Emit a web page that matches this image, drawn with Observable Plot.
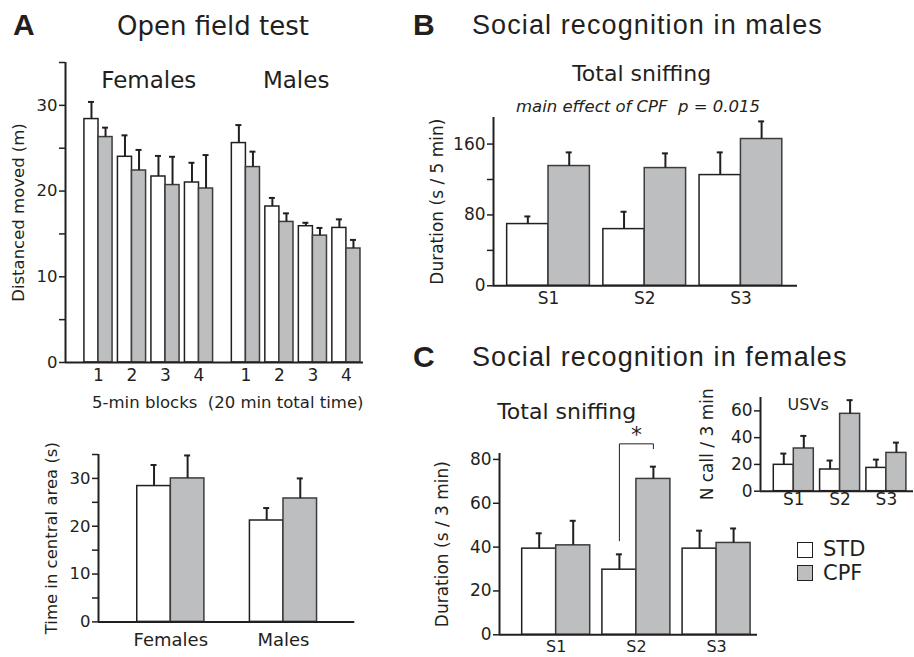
<!DOCTYPE html>
<html><head><meta charset="utf-8">
<script src="https://cdn.jsdelivr.net/npm/d3@7"></script>
<script src="https://cdn.jsdelivr.net/npm/@observablehq/plot@0.6"></script>
<style>
body{margin:0;background:#fff;}
#fig{position:relative;width:914px;height:657px;overflow:hidden;font-family:"DejaVu Sans",sans-serif;color:#231f20;background:#fff;}
.t{position:absolute;white-space:pre;line-height:1;}
.letter{font-family:"Liberation Sans",Arial,sans-serif;font-weight:bold;font-size:30px;}
.head{font-family:"Liberation Sans",Arial,sans-serif;font-size:27px;letter-spacing:1.1px;}
.chart{position:absolute;}
.sw{position:absolute;width:14px;height:14px;border:1.5px solid #231f20;}
</style>
</head><body>
<div id="fig"></div>
<script>
// ---------- data ----------
// A (top): distance moved per 5-min block
const blocks = ["1", "2", "3", "4"];
const femDistSTD = [28.4, 24.0, 21.7, 21.0];
const femDistSTDerr = [2.0, 2.5, 2.4, 2.3];
const femDistCPF = [26.3, 22.4, 20.7, 20.3];
const femDistCPFerr = [1.1, 2.4, 3.3, 3.9];
const maleDistSTD = [25.6, 18.2, 15.9, 15.7];
const maleDistSTDerr = [2.1, 1.0, 0.4, 1.0];
const maleDistCPF = [22.8, 16.4, 14.8, 13.3];
const maleDistCPFerr = [1.8, 1.0, 0.9, 1.0];
// A (bottom): time in central area
const sexes = ["Females", "Males"];
const centralSTD = [28.4, 21.2];
const centralSTDerr = [4.4, 2.6];
const centralCPF = [30.0, 25.8];
const centralCPFerr = [4.8, 4.2];
// B: males total sniffing
const sessions = ["S1", "S2", "S3"];
const maleSniffSTD = [69.7, 64.0, 125.0];
const maleSniffSTDerr = [8.6, 19.6, 25.6];
const maleSniffCPF = [135.2, 132.9, 165.7];
const maleSniffCPFerr = [15.4, 16.6, 19.9];
// C: females total sniffing
const femSniffSTD = [39.3, 29.7, 39.3];
const femSniffSTDerr = [7.0, 7.0, 8.2];
const femSniffCPF = [40.8, 71.1, 41.9];
const femSniffCPFerr = [11.2, 5.6, 6.6];
// C inset: USVs
const usvSTD = [19.7, 16.2, 17.4];
const usvSTDerr = [8.4, 6.7, 6.2];
const usvCPF = [31.9, 57.8, 28.6];
const usvCPFerr = [9.4, 10.2, 7.7];

const GREY = "#bcbec0";
const INK = "#231f20";
const fig = document.getElementById("fig");

function text(str, cls, left, baseline, size, extra) {
  const d = document.createElement("div");
  d.className = "t " + (cls || "");
  d.textContent = str;
  d.style.fontSize = size + "px";
  d.style.left = left + "px";
  d.style.top = (baseline - 0.845 * size) + "px";
  if (extra) Object.assign(d.style, extra);
  fig.appendChild(d);
  return d;
}

function makeChart(cfg) {
  const {x0, x1, y0, y1} = cfg.frame;
  const ML = 80, MR = 20, MT = 20, MB = 60;
  const W = x1 - x0 + ML + MR, H = y1 - y0 + MT + MB;
  const ppu = (x1 - x0) / (cfg.xDomain[1] - cfg.xDomain[0]);
  const cap = 3 / ppu;
  const rows = [];
  cfg.cats.forEach((c, i) => {
    const k = cfg.centers[i];
    rows.push({cat: c, grp: "STD", x1: k - cfg.half, x2: k, v: cfg.std[i], e: cfg.stdErr[i]});
    rows.push({cat: c, grp: "CPF", x1: k, x2: k + cfg.half, v: cfg.cpf[i], e: cfg.cpfErr[i]});
  });
  const mid = d => (d.x1 + d.x2) / 2;
  const marks = [
    Plot.rectY(rows.filter(d => d.grp === "STD"), {x1: "x1", x2: "x2", y1: 0, y2: "v", fill: "white", stroke: INK, strokeWidth: 1.5}),
    Plot.rectY(rows.filter(d => d.grp === "CPF"), {x1: "x1", x2: "x2", y1: 0, y2: "v", fill: GREY, stroke: "#3c3c3c", strokeWidth: 1.5}),
    Plot.ruleX(rows, {x: mid, y1: "v", y2: d => d.v + d.e, stroke: INK, strokeWidth: 2}),
    Plot.ruleY(rows, {y: d => d.v + d.e, x1: d => mid(d) - cap, x2: d => mid(d) + cap, stroke: INK, strokeWidth: 2}),
    Plot.ruleY([0], {x1: cfg.xDomain[0], x2: cfg.xDomain[1], stroke: INK, strokeWidth: 2}),
    Plot.ruleX([cfg.xDomain[0]], {y1: 0, y2: cfg.yDomain[1], stroke: INK, strokeWidth: 2}),
    Plot.axisY({ticks: cfg.yTicks, tickFormat: d => cfg.yLabels.includes(d) ? String(d) : "",
      tickSize: 6, tickPadding: 2, strokeWidth: 1.5, fontSize: cfg.yFont,
      label: cfg.yLabel, labelAnchor: "center", labelOffset: cfg.labelOffset, labelArrow: "none"}),
    Plot.axisX({ticks: cfg.centers, tickFormat: d => cfg.xNames[cfg.centers.indexOf(d)],
      tickSize: 0, tickPadding: cfg.xPad, fontSize: cfg.xFont, label: null}),
    ...(cfg.extra || [])
  ];
  const svg = Plot.plot({
    width: W, height: H, marginLeft: ML, marginRight: MR, marginTop: MT, marginBottom: MB,
    x: {domain: cfg.xDomain}, y: {domain: cfg.yDomain},
    style: {fontFamily: "DejaVu Sans", fontSize: "16px", color: INK, background: "transparent", overflow: "visible"},
    marks
  });
  const wrap = document.createElement("div");
  wrap.className = "chart";
  wrap.style.left = (x0 - ML) + "px";
  wrap.style.top = (y0 - MT) + "px";
  wrap.style.width = W + "px";
  wrap.style.height = H + "px";
  svg.style.maxWidth = "none";
  wrap.appendChild(svg);
  fig.appendChild(wrap);
}

// ---------- Panel A top ----------
const femCenters = [0, 1, 2, 3];
const maleCenters = [4.4, 5.4, 6.4, 7.4];
makeChart({
  frame: {x0: 65, x1: 363, y0: 62, y1: 362},
  xDomain: [-0.985, 7.91], yDomain: [0, 35],
  cats: [...blocks.map(b => "F" + b), ...blocks.map(b => "M" + b)],
  xNames: [...blocks, ...blocks],
  centers: [...femCenters, ...maleCenters], half: 0.42,
  std: [...femDistSTD, ...maleDistSTD], stdErr: [...femDistSTDerr, ...maleDistSTDerr],
  cpf: [...femDistCPF, ...maleDistCPF], cpfErr: [...femDistCPFerr, ...maleDistCPFerr],
  yTicks: [0, 5, 10, 15, 20, 25, 30, 35], yLabels: [0, 10, 20, 30], yFont: 16.5,
  yLabel: "Distanced moved (m)", labelOffset: 53, xFont: 17, xPad: 6,
  extra: [
    Plot.text([{t: sexes[0], x: d3.mean(femCenters)}, {t: sexes[1], x: d3.mean(maleCenters)}],
      {x: "x", y: 32.9, text: "t", fontSize: 23}),
    Plot.text(["5-min blocks\u00a0 (20 min total time)"], {frameAnchor: "bottom-right", text: d => d,
      textAnchor: "end", lineAnchor: "bottom", dy: 45, fontSize: 16.5})
  ]
});

// ---------- Panel A bottom ----------
makeChart({
  frame: {x0: 97.7, x1: 354, y0: 454.3, y1: 621.7},
  xDomain: [-0.642, 1.633], yDomain: [0, 35],
  cats: sexes, xNames: sexes, centers: [0, 1], half: 0.298,
  std: centralSTD, stdErr: centralSTDerr, cpf: centralCPF, cpfErr: centralCPFerr,
  yTicks: [0, 5, 10, 15, 20, 25, 30, 35], yLabels: [0, 10, 20, 30], yFont: 16.5,
  yLabel: "Time in central area (s)", labelOffset: 53, xFont: 18, xPad: 11
});

// ---------- Panel B ----------
makeChart({
  frame: {x0: 492.7, x1: 796.7, y0: 116.7, y1: 285},
  xDomain: [-0.572, 2.588], yDomain: [0, 190],
  cats: sessions, xNames: sessions, centers: [0, 1, 2], half: 0.43,
  std: maleSniffSTD, stdErr: maleSniffSTDerr, cpf: maleSniffCPF, cpfErr: maleSniffCPFerr,
  yTicks: [0, 40, 80, 120, 160], yLabels: [0, 80, 160], yFont: 17,
  yLabel: "Duration (s / 5 min)", labelOffset: 63, xFont: 17, xPad: 6
});

// ---------- Panel C ----------
const bracket = [
  {x: 1 - 0.212, y: 42.9}, {x: 1 - 0.212, y: 87.1}, {x: 1 + 0.212, y: 87.1}, {x: 1 + 0.212, y: 84.9}
];
makeChart({
  frame: {x0: 499, x1: 757, y0: 452.7, y1: 634},
  xDomain: [-0.707, 2.51], yDomain: [0, 82.7],
  cats: sessions, xNames: sessions, centers: [0, 1, 2], half: 0.424,
  std: femSniffSTD, stdErr: femSniffSTDerr, cpf: femSniffCPF, cpfErr: femSniffCPFerr,
  yTicks: [0, 20, 40, 60, 80], yLabels: [0, 20, 40, 60, 80], yFont: 17,
  yLabel: "Duration (s / 3 min)", labelOffset: 64, xFont: 16, xPad: 6,
  extra: [
    Plot.line(bracket, {x: "x", y: "y", stroke: INK, strokeWidth: 1}),
    Plot.text(["*"], {x: 1, y: 91, text: d => d, fontSize: 22})
  ]
});

// ---------- Panel C inset: USVs ----------
makeChart({
  frame: {x0: 760, x1: 913, y0: 397.3, y1: 491},
  xDomain: [-0.719, 2.585], yDomain: [0, 70],
  cats: sessions, xNames: sessions, centers: [0, 1, 2], half: 0.432,
  std: usvSTD, stdErr: usvSTDerr, cpf: usvCPF, cpfErr: usvCPFerr,
  yTicks: [0, 20, 40, 60], yLabels: [0, 20, 40, 60], yFont: 17,
  yLabel: "N call / 3 min", labelOffset: 60, xFont: 17, xPad: 2,
  extra: [
    Plot.text(["USVs"], {x: 0.31, y: 64.2, text: d => d, fontSize: 16})
  ]
});

// ---------- titles ----------
text("A", "letter", 13, 35, 30);
text("Open field test", "", 117, 35, 26);
text("B", "letter", 413, 35, 30);
text("Social recognition in males", "head", 472, 35, 27);
text("C", "letter", 413, 367, 30);
text("Social recognition in females", "head", 472, 367, 27);
text("Total sniffing", "", 641.7, 82, 22, {transform: "translateX(-50%)"});
text("main effect of CPF\u00a0 p = 0.015", "", 638, 113, 16.5, {transform: "translateX(-50%)", fontStyle: "italic"});
text("Total sniffing", "", 566.7, 420, 22, {transform: "translateX(-50%)"});

// ---------- legend ----------
const legendItems = [{name: "STD", fill: "white"}, {name: "CPF", fill: GREY}];
legendItems.forEach((it, i) => {
  const sw = document.createElement("div");
  sw.className = "sw";
  sw.style.left = "797px";
  sw.style.top = (542 + i * 23.3) + "px";
  sw.style.background = it.fill;
  fig.appendChild(sw);
  text(it.name, "", 823, 557 + i * 23.3, 21);
});
</script>
</body></html>
